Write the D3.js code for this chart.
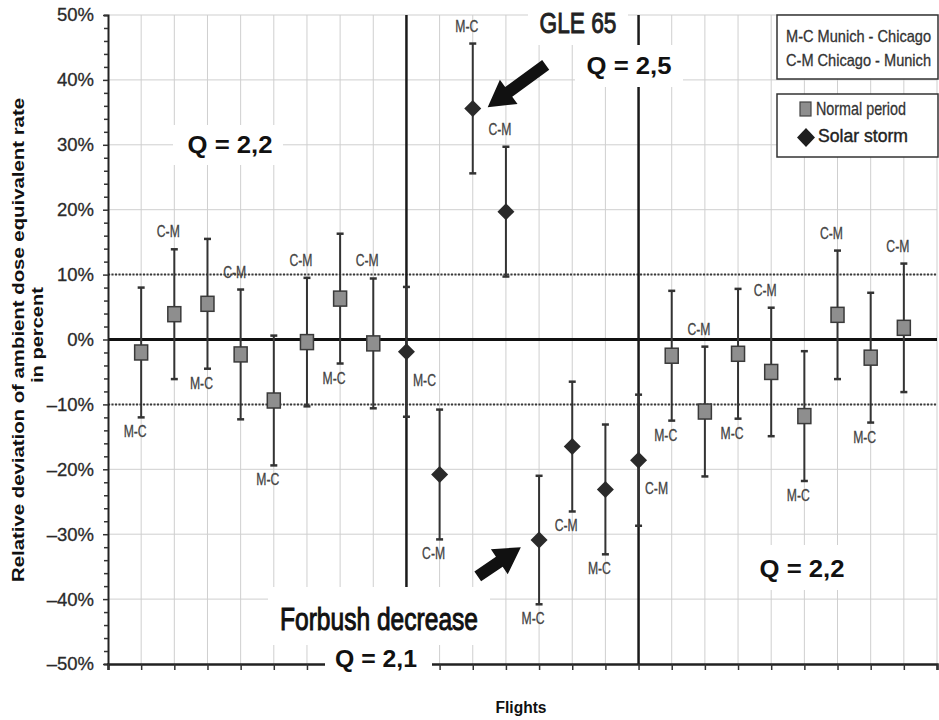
<!DOCTYPE html>
<html><head><meta charset="utf-8">
<script src="https://cdn.jsdelivr.net/npm/d3@7"></script>
<style>
html,body{margin:0;padding:0;background:#fff;}
svg{display:block;}
</style></head>
<body>
<svg id="chart" width="939" height="720"></svg>
<script>
// ---------- DATA ----------
const flights   = d3.range(1, 25);
const period    = ["normal","normal","normal","normal","normal","normal","normal","normal",
                   "storm","storm","storm","storm","storm","storm","storm","storm",
                   "normal","normal","normal","normal","normal","normal","normal","normal"];
const deviation = [-2.0, 3.9, 5.5, -2.3, -9.4, -0.4, 6.3, -0.6,
                   -1.9, -20.8, 35.6, 19.7, -30.9, -16.5, -23.1, -18.6,
                   -2.5, -11.1, -2.2, -5.0, -11.8, 3.8, -2.8, 1.8];
const errorPct  = [10.0, 10.0, 10.0, 10.0, 10.0, 9.9, 10.0, 10.0,
                   10.0, 10.0, 10.0, 10.0, 9.9, 10.0, 10.0, 10.1,
                   10.0, 10.0, 10.0, 9.9, 10.0, 9.9, 10.0, 9.9];
const direction = ["M-C","C-M","M-C","C-M","M-C","C-M","M-C","C-M",
                   "M-C","C-M","M-C","C-M","M-C","C-M","M-C","C-M",
                   "M-C","C-M","M-C","C-M","M-C","C-M","M-C","C-M"];
const labelSide = ["below","above","below","above","below","above","below","above",
                   "right","below","above","above","below","below","below","right",
                   "below","above","below","above","below","above","below","above"];
const yTicks    = d3.range(-50, 51, 10);
const yMinor    = d3.range(-50, 51, 2);
const periodBounds = [9, 16];
const legendLines  = ["M-C Munich - Chicago", "C-M Chicago - Munich"];
const legendSeries = ["Normal period", "Solar storm"];

// ---------- SETUP ----------
const svg = d3.select("#chart");
const W = 939, H = 720;
const m = {left:108, right:2, top:15, bottom:56};
const x = d3.scaleLinear().domain([0, 25]).range([m.left, W - m.right]);
const y = d3.scaleLinear().domain([-50, 50]).range([H - m.bottom, m.top]);
const NARROW = "'Liberation Sans Narrow','Arial Narrow','Liberation Sans',Arial,sans-serif";
const SANS = "'Liberation Sans',Arial,sans-serif";

svg.append("rect").attr("width", W).attr("height", H).attr("fill", "#fff");

const data = flights.map((f, i) => ({
  f, period: period[i], v: deviation[i], e: errorPct[i], dir: direction[i], side: labelSide[i]
}));

// gridlines
const grid = svg.append("g");
grid.selectAll("line.h").data(yTicks.filter(d => d !== -50)).join("line")
  .attr("x1", x(0)).attr("x2", x(25)).attr("y1", d => y(d)).attr("y2", d => y(d))
  .attr("stroke", "#cfcfcf").attr("stroke-width", 1);
grid.selectAll("line.v").data(d3.range(1, 26)).join("line")
  .attr("x1", d => x(d)).attr("x2", d => x(d)).attr("y1", y(50)).attr("y2", y(-50))
  .attr("stroke", "#cfcfcf").attr("stroke-width", 1);

// dotted ±10 lines
svg.selectAll("line.dot").data([10, -10]).join("line")
  .attr("x1", x(0)).attr("x2", x(25)).attr("y1", d => y(d)).attr("y2", d => y(d))
  .attr("stroke", "#3a3a3a").attr("stroke-width", 2).attr("stroke-dasharray", "2,1.5");

// zero line
svg.append("line").attr("x1", x(0)).attr("x2", x(25)).attr("y1", y(0)).attr("y2", y(0))
  .attr("stroke", "#111").attr("stroke-width", 3);

// period boundaries
svg.selectAll("line.pb").data(periodBounds).join("line")
  .attr("x1", d => x(d)).attr("x2", d => x(d)).attr("y1", y(50)).attr("y2", y(-50))
  .attr("stroke", "#1a1a1a").attr("stroke-width", 2.5);

// axes
const yAxis = d3.axisLeft(y).tickValues(yMinor).tickSize(4).tickPadding(10)
  .tickFormat(d => d % 10 === 0 ? (d < 0 ? "\u2013" + (-d) + "%" : d + "%") : "");
const gy = svg.append("g").attr("transform", `translate(${x(0)},0)`).call(yAxis);
gy.select(".domain").attr("stroke", "#222").attr("stroke-width", 2);
gy.selectAll(".tick line").attr("stroke", "#333").attr("stroke-width", 1.5)
  .attr("x2", d => d % 10 === 0 ? -5 : -4);
gy.selectAll(".tick text").attr("font-family", NARROW).attr("font-size", 18.5).attr("fill", "#2a2a2a")
  .attr("stroke", "#2a2a2a").attr("stroke-width", 0.3);

const xAxis = d3.axisBottom(x).tickValues(d3.range(0, 26)).tickSize(6).tickFormat("");
const gx = svg.append("g").attr("transform", `translate(0,${y(-50)})`).call(xAxis);
gx.select(".domain").attr("stroke", "#222").attr("stroke-width", 2.5);
gx.selectAll(".tick line").attr("stroke", "#333").attr("stroke-width", 1.5);

// white label boxes
const boxes = [
  [528, 0, 100, 45], [575, 45, 108, 42], [173, 125, 110, 40],
  [268, 587, 222, 58], [325, 645, 107, 37], [750, 545, 105, 45]
];
svg.selectAll("rect.box").data(boxes).join("rect")
  .attr("x", d => d[0]).attr("y", d => d[1]).attr("width", d => d[2]).attr("height", d => d[3])
  .attr("fill", "#fff");

// annotation texts
function txt(t, cx, by, opts) {
  const el = svg.append("text").attr("x", cx).attr("y", by).attr("text-anchor", "middle")
    .attr("font-family", opts.font).attr("font-size", opts.size)
    .attr("font-weight", opts.weight || "normal").attr("fill", opts.fill || "#111").text(t);
  if (opts.len) el.attr("textLength", opts.len).attr("lengthAdjust", "spacingAndGlyphs");
  if (opts.sw) el.attr("stroke", opts.fill || "#111").attr("stroke-width", opts.sw);
  return el;
}
txt("GLE 65", 578, 33, {font: NARROW, size: 29, len: 77, fill: "#222", sw: 0.9});
txt("Q = 2,5", 629, 74, {font: SANS, size: 23, weight: "bold", len: 85});
txt("Q = 2,2", 230, 153, {font: SANS, size: 23, weight: "bold", len: 85});
txt("Forbush decrease", 379, 630, {font: NARROW, size: 31, len: 198, fill: "#111", sw: 1});
txt("Q = 2,1", 376, 667, {font: SANS, size: 23, weight: "bold", len: 82});
txt("Q = 2,2", 802, 577, {font: SANS, size: 23, weight: "bold", len: 85});

// error bars
const eb = svg.append("g").attr("stroke", "#333").attr("stroke-width", 2);
eb.selectAll("line.bar").data(data).join("line")
  .attr("x1", d => x(d.f)).attr("x2", d => x(d.f))
  .attr("y1", d => y(d.v + d.e)).attr("y2", d => y(d.v - d.e));
eb.selectAll("line.capT").data(data).join("line")
  .attr("x1", d => x(d.f) - 3.5).attr("x2", d => x(d.f) + 3.5)
  .attr("y1", d => y(d.v + d.e)).attr("y2", d => y(d.v + d.e)).attr("stroke-width", 2.5);
eb.selectAll("line.capB").data(data).join("line")
  .attr("x1", d => x(d.f) - 3.5).attr("x2", d => x(d.f) + 3.5)
  .attr("y1", d => y(d.v - d.e)).attr("y2", d => y(d.v - d.e)).attr("stroke-width", 2.5);

// markers
svg.selectAll("rect.sq").data(data.filter(d => d.period === "normal")).join("rect")
  .attr("x", d => x(d.f) - 6.5).attr("y", d => y(d.v) - 7.5).attr("width", 13).attr("height", 15)
  .attr("fill", "#8e8e8e").attr("stroke", "#3a3a3a").attr("stroke-width", 1.5);
svg.selectAll("path.dm").data(data.filter(d => d.period === "storm")).join("path")
  .attr("d", d => `M${x(d.f)},${y(d.v) - 8.5}L${x(d.f) + 8.5},${y(d.v)}L${x(d.f)},${y(d.v) + 8.5}L${x(d.f) - 8.5},${y(d.v)}Z`)
  .attr("fill", "#2a2a2a");

// direction labels
svg.selectAll("text.dir").data(data).join("text")
  .attr("x", d => d.side === "right" ? x(d.f) + 18 : x(d.f) - 6)
  .attr("y", d => d.side === "above" ? y(d.v + d.e) - 12
                : d.side === "below" ? y(d.v - d.e) + 20
                : y(d.v) + 34)
  .attr("text-anchor", "middle").attr("font-family", NARROW).attr("font-size", 16)
  .attr("fill", "#444").attr("stroke", "#444").attr("stroke-width", 0.3)
  .attr("textLength", 23).attr("lengthAdjust", "spacingAndGlyphs")
  .text(d => d.dir);

// legend
svg.append("rect").attr("x", 777).attr("y", 15).attr("width", 161).attr("height", 64)
  .attr("fill", "#fff").attr("stroke", "#333").attr("stroke-width", 1.5);
svg.selectAll("text.lg1").data(legendLines).join("text")
  .attr("x", 786).attr("y", (d, i) => 42 + i * 24)
  .attr("font-family", NARROW).attr("font-size", 16.5).attr("fill", "#333")
  .attr("stroke", "#333").attr("stroke-width", 0.3)
  .attr("textLength", 145).attr("lengthAdjust", "spacingAndGlyphs").text(d => d);
svg.append("rect").attr("x", 777).attr("y", 94).attr("width", 161).attr("height", 63)
  .attr("fill", "#fff").attr("stroke", "#333").attr("stroke-width", 1.5);
svg.append("rect").attr("x", 800).attr("y", 102).attr("width", 11).attr("height", 14)
  .attr("fill", "#8e8e8e").attr("stroke", "#444").attr("stroke-width", 1.2);
svg.append("path").attr("d", "M806,128L815,137.5L806,147L797,137.5Z").attr("fill", "#1e1e1e");
svg.append("text").attr("x", 816).attr("y", 115).attr("font-family", NARROW).attr("font-size", 18.5)
  .attr("fill", "#333").attr("stroke", "#333").attr("stroke-width", 0.3)
  .attr("textLength", 90).attr("lengthAdjust", "spacingAndGlyphs").text(legendSeries[0]);
svg.append("text").attr("x", 818).attr("y", 142).attr("font-family", SANS).attr("font-size", 18)
  .attr("fill", "#222").attr("stroke", "#222").attr("stroke-width", 0.4)
  .attr("textLength", 90).attr("lengthAdjust", "spacingAndGlyphs").text(legendSeries[1]);

// arrows
function arrow(tail, tip, shaftW, headW, headL) {
  const dx = tip[0] - tail[0], dy = tip[1] - tail[1];
  const L = Math.hypot(dx, dy), ux = dx / L, uy = dy / L, px = -uy, py = ux;
  const bx = tip[0] - ux * headL, by = tip[1] - uy * headL;
  const pts = [
    [tail[0] + px * shaftW / 2, tail[1] + py * shaftW / 2],
    [bx + px * shaftW / 2, by + py * shaftW / 2],
    [bx + px * headW / 2, by + py * headW / 2],
    tip,
    [bx - px * headW / 2, by - py * headW / 2],
    [bx - px * shaftW / 2, by - py * shaftW / 2],
    [tail[0] - px * shaftW / 2, tail[1] - py * shaftW / 2]
  ];
  svg.append("polygon").attr("points", pts.map(p => p.join(",")).join(" ")).attr("fill", "#111");
}
arrow([x(13.2), y(42.3)], [x(11.45), y(35.8)], 12, 30, 26);
arrow([x(11.15), y(-36.5)], [x(12.45), y(-32.0)], 12, 30, 26);

// axis titles
svg.append("text").attr("x", 521).attr("y", 713).attr("text-anchor", "middle")
  .attr("font-family", SANS).attr("font-size", 16).attr("font-weight", "bold").attr("fill", "#111")
  .attr("textLength", 51).attr("lengthAdjust", "spacingAndGlyphs")
  .text("Flights");
svg.append("text").attr("transform", "translate(24,340) rotate(-90)")
  .attr("text-anchor", "middle").attr("font-family", SANS).attr("font-size", 17)
  .attr("font-weight", "bold").attr("fill", "#111")
  .attr("textLength", 484).attr("lengthAdjust", "spacingAndGlyphs")
  .text("Relative deviation of ambient dose equivalent rate");
svg.append("text").attr("transform", "translate(43,335) rotate(-90)")
  .attr("text-anchor", "middle").attr("font-family", SANS).attr("font-size", 17)
  .attr("font-weight", "bold").attr("fill", "#111")
  .attr("textLength", 96).attr("lengthAdjust", "spacingAndGlyphs").text("in percent");
</script>
</body></html>
